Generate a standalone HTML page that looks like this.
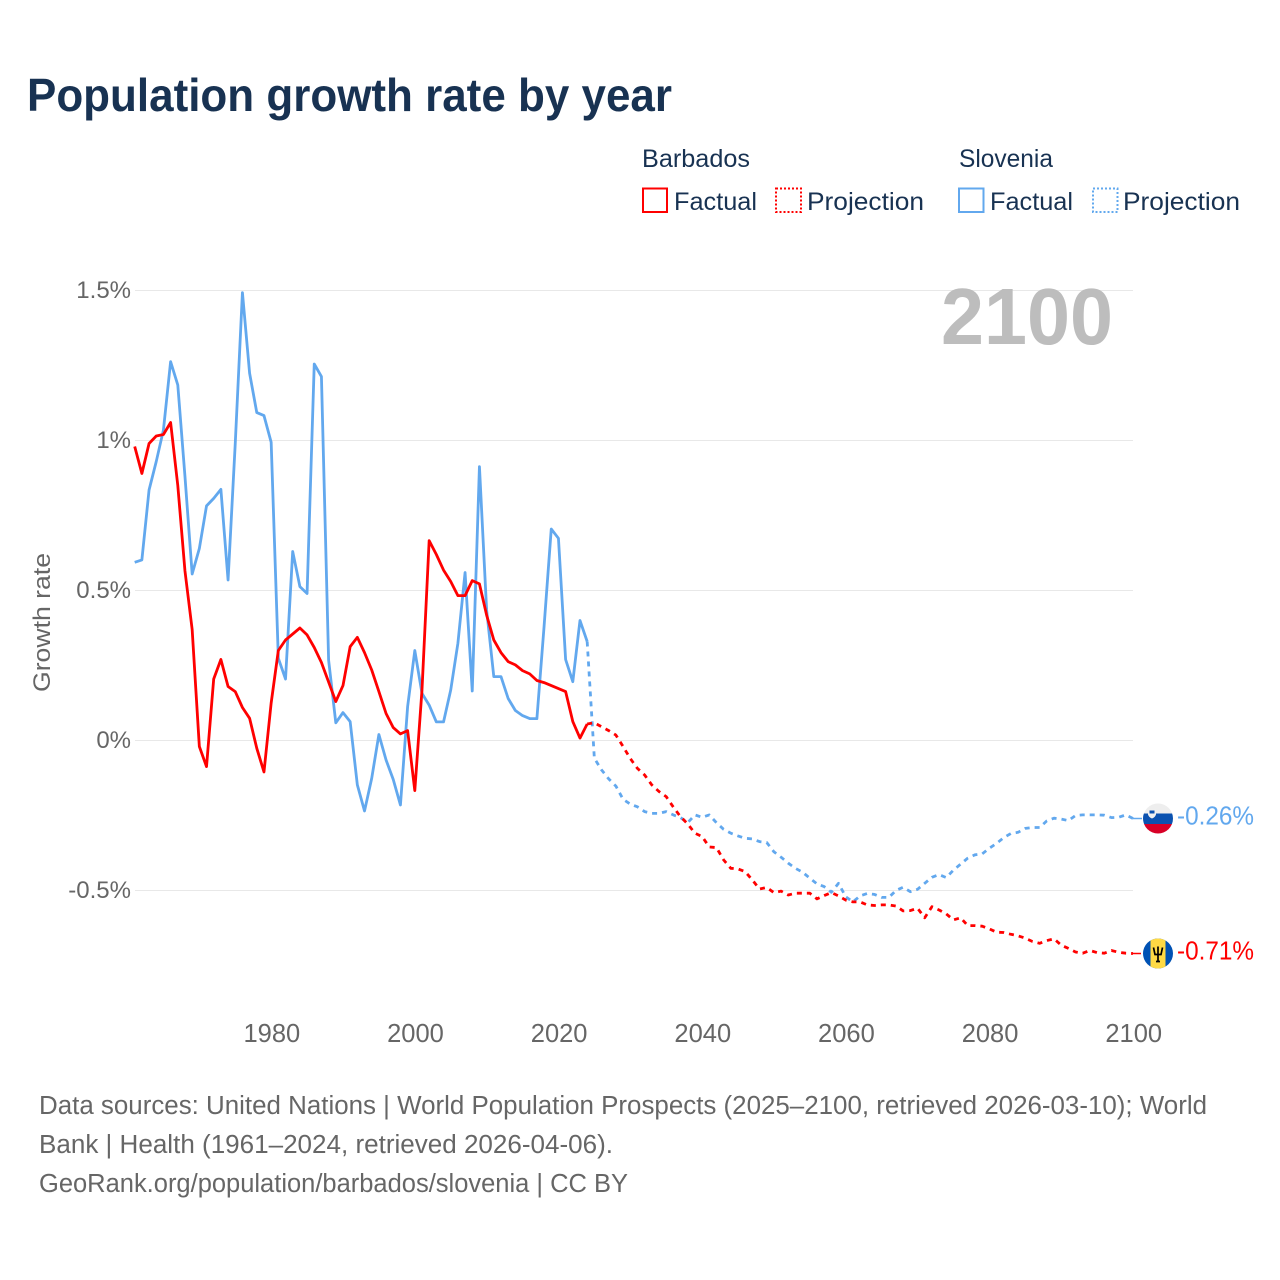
<!DOCTYPE html>
<html lang="en">
<head>
<meta charset="utf-8">
<title>Population growth rate by year</title>
<style>
html,body{margin:0;padding:0;background:#fff;width:1280px;height:1280px;overflow:hidden}
svg{display:block}
text{font-family:"Liberation Sans",sans-serif}
</style>
</head>
<body>
<svg id="chart" xmlns="http://www.w3.org/2000/svg" width="1280" height="1280" viewBox="0 0 1280 1280">
  <rect width="1280" height="1280" fill="#ffffff"/>
  <text x="27" y="111" font-size="46" font-weight="700" fill="#183252" textLength="645" lengthAdjust="spacingAndGlyphs">Population growth rate by year</text>

  <g fill="#183252" font-size="25">
    <text x="642" y="167" textLength="108" lengthAdjust="spacingAndGlyphs">Barbados</text>
    <text x="959" y="167" textLength="94" lengthAdjust="spacingAndGlyphs">Slovenia</text>
    <rect x="643" y="188.5" width="24" height="23.5" fill="none" stroke="#ff0000" stroke-width="2"/>
    <text x="674" y="210" textLength="83" lengthAdjust="spacingAndGlyphs">Factual</text>
    <rect x="776" y="188.5" width="25" height="23.5" fill="none" stroke="#ff0000" stroke-width="2" stroke-dasharray="2 2"/>
    <text x="807" y="210" textLength="117" lengthAdjust="spacingAndGlyphs">Projection</text>
    <rect x="959" y="188.5" width="24.5" height="23.5" fill="none" stroke="#62a8ee" stroke-width="2"/>
    <text x="990" y="210" textLength="83" lengthAdjust="spacingAndGlyphs">Factual</text>
    <rect x="1093" y="188.5" width="24.5" height="23.5" fill="none" stroke="#62a8ee" stroke-width="2" stroke-dasharray="2 2"/>
    <text x="1123" y="210" textLength="117" lengthAdjust="spacingAndGlyphs">Projection</text>
  </g>

  <g id="grid"></g>
  <g id="yticks"></g>
  <g id="xticks"></g>
  <text transform="translate(50 692) rotate(-90)" font-size="24" fill="#666666" textLength="139" lengthAdjust="spacingAndGlyphs">Growth rate</text>
  <text x="941" y="344" font-size="80" font-weight="700" fill="#bdbdbd" textLength="172" lengthAdjust="spacingAndGlyphs">2100</text>

  <g id="series"></g>

  <g id="flag-slovenia">
    <clipPath id="clip-si"><circle cx="0" cy="0" r="15"/></clipPath>
    <g clip-path="url(#clip-si)">
      <rect x="-15" y="-15" width="30" height="10" fill="#eeeeee"/>
      <rect x="-15" y="-5" width="30" height="10.5" fill="#0b52b0"/>
      <rect x="-15" y="5.5" width="30" height="10" fill="#d80027"/>
      <path d="M-10 -9 h8 v5 q-1 3 -4 4 q-3 -1 -4 -4 z" fill="#f0f0f0"/>
      <rect x="-8.5" y="-8" width="5" height="3" fill="#0b52b0"/>
    </g>
  </g>
  <g id="flag-barbados">
    <clipPath id="clip-bb"><circle cx="0" cy="0" r="15"/></clipPath>
    <g clip-path="url(#clip-bb)">
      <rect x="-15" y="-15" width="30" height="30" fill="#0052b4"/>
      <rect x="-7.5" y="-15" width="15" height="30" fill="#ffda44"/>
      <path d="M-4.5 -6 L-3 1 H3 L4.5 -6 M0 -7 V8 M-2 8 H2" fill="none" stroke="#000000" stroke-width="1.7"/>
    </g>
  </g>
  <text id="label-slovenia" x="1177" font-size="25.5" fill="#62a8ee" textLength="77" lengthAdjust="spacingAndGlyphs"></text>
  <text id="label-barbados" x="1177" font-size="25.5" fill="#ff0000" textLength="77" lengthAdjust="spacingAndGlyphs"></text>

  <g font-size="25.5" fill="#666666">
    <text x="39" y="1114" textLength="1168" lengthAdjust="spacingAndGlyphs">Data sources: United Nations | World Population Prospects (2025–2100, retrieved 2026-03-10); World</text>
    <text x="39" y="1153" textLength="574" lengthAdjust="spacingAndGlyphs">Bank | Health (1961–2024, retrieved 2026-04-06).</text>
    <text x="39" y="1192" textLength="589" lengthAdjust="spacingAndGlyphs">GeoRank.org/population/barbados/slovenia | CC BY</text>
  </g>
</svg>
<script>
const xTickYears = [1980, 2000, 2020, 2040, 2060, 2080, 2100];
const yTickValues = [1.5, 1, 0.5, 0, -0.5];
const yTickLabels = ["1.5%", "1%", "0.5%", "0%", "-0.5%"];
const factualStartYear = 1961;
const projectionStartYear = 2024;
const barbadosFactual = [0.98,0.89,0.99,1.015,1.02,1.06,0.85,0.565,0.37,-0.02,-0.087,0.205,0.27,0.18,0.163,0.11,0.074,-0.026,-0.105,0.125,0.30,0.335,0.355,0.375,0.352,0.31,0.26,0.195,0.13,0.183,0.313,0.344,0.293,0.235,0.163,0.09,0.043,0.022,0.033,-0.167,0.168,0.666,0.62,0.568,0.53,0.483,0.483,0.533,0.522,0.418,0.335,0.293,0.263,0.252,0.233,0.222,0.20,0.193,0.183,0.173,0.163,0.063,0.008,0.055];
const sloveniaFactual = [0.594,0.602,0.835,0.93,1.035,1.263,1.185,0.88,0.555,0.64,0.782,0.807,0.837,0.535,0.99,1.493,1.224,1.093,1.083,0.994,0.274,0.205,0.63,0.513,0.49,1.255,1.213,0.268,0.059,0.093,0.063,-0.148,-0.235,-0.126,0.02,-0.065,-0.13,-0.215,0.113,0.30,0.157,0.118,0.062,0.062,0.168,0.324,0.56,0.165,0.913,0.435,0.213,0.213,0.14,0.10,0.083,0.073,0.073,0.38,0.705,0.674,0.27,0.196,0.40,0.33];
const barbadosProjection = [0.055,0.059,0.046,0.033,0.018,-0.02,-0.06,-0.093,-0.115,-0.148,-0.17,-0.187,-0.222,-0.254,-0.278,-0.309,-0.32,-0.355,-0.357,-0.398,-0.426,-0.428,-0.437,-0.465,-0.495,-0.49,-0.507,-0.502,-0.515,-0.509,-0.509,-0.509,-0.528,-0.517,-0.507,-0.518,-0.532,-0.538,-0.538,-0.548,-0.55,-0.548,-0.548,-0.552,-0.568,-0.567,-0.559,-0.591,-0.554,-0.565,-0.578,-0.598,-0.591,-0.617,-0.617,-0.619,-0.628,-0.639,-0.64,-0.646,-0.651,-0.659,-0.67,-0.676,-0.667,-0.661,-0.682,-0.693,-0.705,-0.709,-0.70,-0.707,-0.709,-0.70,-0.706,-0.709,-0.71];
const sloveniaProjection = [0.33,-0.059,-0.098,-0.128,-0.152,-0.196,-0.212,-0.221,-0.237,-0.243,-0.243,-0.237,-0.248,-0.257,-0.274,-0.248,-0.256,-0.248,-0.274,-0.296,-0.309,-0.318,-0.326,-0.328,-0.337,-0.34,-0.371,-0.389,-0.409,-0.426,-0.439,-0.459,-0.478,-0.487,-0.506,-0.476,-0.521,-0.538,-0.518,-0.51,-0.513,-0.523,-0.523,-0.50,-0.489,-0.504,-0.496,-0.476,-0.456,-0.447,-0.457,-0.432,-0.412,-0.392,-0.381,-0.378,-0.359,-0.343,-0.324,-0.31,-0.306,-0.293,-0.29,-0.29,-0.268,-0.259,-0.262,-0.267,-0.25,-0.248,-0.248,-0.248,-0.249,-0.257,-0.256,-0.248,-0.26];

const NS = 'http://www.w3.org/2000/svg';
const BLUE = '#62a8ee';
const RED = '#ff0000';
function xOf(year) { return 134.7 + (year - 1961) * 7.182; }
function yOf(value) { return 740.5 - value * 300; }
function make(tag, parent, attrs) {
  const el = document.createElementNS(NS, tag);
  Object.keys(attrs).forEach(function (k) { el.setAttribute(k, attrs[k]); });
  parent.appendChild(el);
  return el;
}

const gridGroup = document.getElementById('grid');
const yTickGroup = document.getElementById('yticks');
yTickValues.forEach(function (v, i) {
  const line = make('line', gridGroup, { x1: 135, x2: 1133, y1: yOf(v), y2: yOf(v), stroke: '#e8e8e8', 'stroke-width': 1 });
  
  
  const label = make('text', yTickGroup, { x: 131, y: yOf(v) + 7.5, 'text-anchor': 'end', 'font-size': 24, fill: '#666666' });
  
  
  label.textContent = yTickLabels[i];
});

const xTickGroup = document.getElementById('xticks');
xTickYears.forEach(function (year) {
  const label = make('text', xTickGroup, { x: xOf(year) + 0.7, y: 1042, 'text-anchor': 'middle', 'font-size': 25.5, fill: '#666666' });
  
  
  label.textContent = year;
});

function linePath(values, startYear) {
  return values.map(function (v, i) {
    return (i ? 'L' : 'M') + xOf(startYear + i).toFixed(2) + ' ' + yOf(v).toFixed(2);
  }).join(' ');
}

const seriesGroup = document.getElementById('series');

const sloveniaFactualLine = make('path', seriesGroup, { d: linePath(sloveniaFactual, factualStartYear), fill: 'none', stroke: BLUE, 'stroke-width': 2.8, 'stroke-linejoin': 'round' });



const sloveniaProjectionLine = make('path', seriesGroup, { d: linePath(sloveniaProjection, projectionStartYear), fill: 'none', stroke: BLUE, 'stroke-width': 2.8, 'stroke-dasharray': '5 5', 'stroke-linejoin': 'round' });



const barbadosFactualLine = make('path', seriesGroup, { d: linePath(barbadosFactual, factualStartYear), fill: 'none', stroke: RED, 'stroke-width': 2.8, 'stroke-linejoin': 'round' });



const barbadosProjectionLine = make('path', seriesGroup, { d: linePath(barbadosProjection, projectionStartYear), fill: 'none', stroke: RED, 'stroke-width': 2.8, 'stroke-dasharray': '5 5', 'stroke-linejoin': 'round' });



const lastYear = projectionStartYear + barbadosProjection.length - 1;
const siLast = sloveniaProjection[sloveniaProjection.length - 1];
const bbLast = barbadosProjection[barbadosProjection.length - 1];

const siLeader = make('line', seriesGroup, { x1: xOf(lastYear), x2: 1142, y1: yOf(siLast), y2: yOf(siLast), stroke: BLUE, 'stroke-width': 1.5 });


const bbLeader = make('line', seriesGroup, { x1: xOf(lastYear), x2: 1141, y1: yOf(bbLast), y2: yOf(bbLast), stroke: RED, 'stroke-width': 1.5 });



document.getElementById('flag-slovenia').setAttribute('transform', 'translate(1158 ' + yOf(siLast) + ')');
document.getElementById('flag-barbados').setAttribute('transform', 'translate(1158 ' + yOf(bbLast) + ')');
const siLabel = document.getElementById('label-slovenia');
siLabel.setAttribute('y', yOf(siLast) + 6);
siLabel.textContent = siLast.toFixed(2) + '%';
const bbLabel = document.getElementById('label-barbados');
bbLabel.setAttribute('y', yOf(bbLast) + 6);
bbLabel.textContent = bbLast.toFixed(2) + '%';
</script>
</body>
</html>
